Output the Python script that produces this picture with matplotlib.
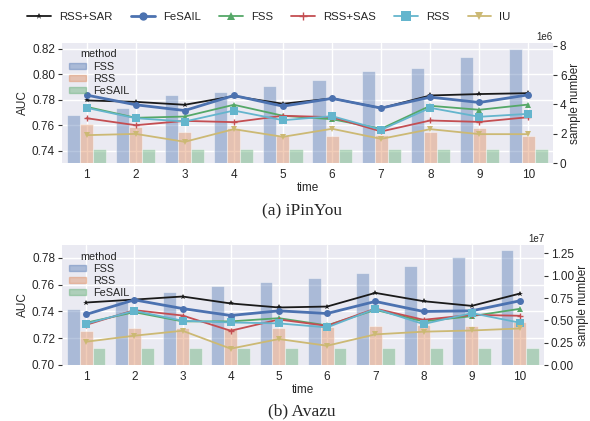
import matplotlib
matplotlib.use("Agg")
import matplotlib.pyplot as plt
import numpy as np
import seaborn as sns
from matplotlib.lines import Line2D

sns.set_theme(style="darkgrid")
plt.rcParams['font.family'] = ['Liberation Sans', 'DejaVu Sans']

time = [1, 2, 3, 4, 5, 6, 7, 8, 9, 10]
methods = ["RSS+SAR", "FeSAIL", "FSS", "RSS+SAS", "RSS", "IU"]
bar_methods = ["FSS", "RSS", "FeSAIL"]

# iPinYou AUC
ip_rss_sar = [0.7795, 0.7784, 0.7761, 0.7829, 0.7769, 0.7811, 0.7735, 0.7834, 0.7845, 0.7852]
ip_fesail = [0.7837, 0.7761, 0.7716, 0.7834, 0.7750, 0.7811, 0.7735, 0.7821, 0.7779, 0.7839]
ip_fss = [0.7745, 0.7659, 0.7669, 0.7761, 0.7675, 0.7648, 0.7573, 0.7753, 0.7722, 0.7763]
ip_rss_sas = [0.7656, 0.7601, 0.7635, 0.7625, 0.7675, 0.7664, 0.7552, 0.7638, 0.7627, 0.7664]
ip_rss = [0.7737, 0.7656, 0.7630, 0.7716, 0.7640, 0.7672, 0.7565, 0.7737, 0.7667, 0.7690]
ip_iu = [0.7523, 0.7533, 0.7471, 0.7570, 0.7510, 0.7573, 0.7494, 0.7570, 0.7531, 0.7531]
# iPinYou sample numbers (1e6)
ip_n_fss = [3.25, 3.73, 4.68, 4.86, 5.23, 5.68, 6.30, 6.48, 7.27, 7.80]
ip_n_rss = [2.64, 2.45, 2.14, 2.36, 1.82, 1.86, 1.90, 2.09, 2.36, 1.82]
ip_n_fesail = [0.95, 0.95, 0.95, 0.95, 0.95, 0.95, 0.95, 0.95, 0.95, 0.95]

# Avazu AUC
av_rss_sar = [0.7467, 0.7489, 0.7512, 0.7460, 0.7430, 0.7437, 0.7539, 0.7477, 0.7442, 0.7534]
av_fesail = [0.7378, 0.7487, 0.7422, 0.7370, 0.7405, 0.7385, 0.7475, 0.7400, 0.7405, 0.7480]
av_fss = [0.7316, 0.7395, 0.7326, 0.7326, 0.7350, 0.7296, 0.7412, 0.7326, 0.7365, 0.7420]
av_rss_sas = [0.7300, 0.7410, 0.7370, 0.7256, 0.7340, 0.7293, 0.7422, 0.7338, 0.7375, 0.7368]
av_rss = [0.7308, 0.7405, 0.7331, 0.7318, 0.7311, 0.7281, 0.7420, 0.7306, 0.7388, 0.7316]
av_iu = [0.7174, 0.7219, 0.7256, 0.7122, 0.7194, 0.7144, 0.7229, 0.7249, 0.7258, 0.7273]
# Avazu sample numbers (1e7)
av_n_fss = [0.629, 0.718, 0.818, 0.889, 0.926, 0.975, 1.030, 1.112, 1.209, 1.283]
av_n_rss = [0.383, 0.417, 0.417, 0.420, 0.420, 0.430, 0.439, 0.450, 0.439, 0.487]
av_n_fesail = [0.193, 0.193, 0.193, 0.193, 0.193, 0.193, 0.193, 0.193, 0.193, 0.193]

line_styles = {
    "RSS+SAR": dict(color="#1a1a1a", marker="*", ms=4, lw=1.3),
    "FeSAIL": dict(color="#4C72B0", marker="o", ms=5, lw=2.0),
    "FSS": dict(color="#55A868", marker="^", ms=4.5, lw=1.3),
    "RSS+SAS": dict(color="#C44E52", marker="+", ms=5, lw=1.3),
    "RSS": dict(color="#64B5CD", marker="s", ms=6, lw=1.3),
    "IU": dict(color="#CCB974", marker="v", ms=4.5, lw=1.3),
}
bar_colors = {"FSS": "#4C72B0", "RSS": "#DD8452", "FeSAIL": "#55A868"}

fig = plt.figure(figsize=(5.9, 4.21), dpi=100)


def panel(rect, aucs, counts, ylim, yticks, right_ylim, right_ticks, right_fmt, offset, caption, cap_y):
    ax = fig.add_axes(rect)
    ax2 = ax.twinx()
    x = np.array(time, dtype=float)
    w = 0.8 / 3
    ax2.patch.set_visible(True)
    ax2.set_facecolor("#EAEAF2")
    ax2.set_axisbelow(True)
    for i, m in enumerate(bar_methods):
        ax2.bar(x + (i - 1) * w, counts[i], width=w, color=bar_colors[m], alpha=0.4,
                edgecolor="white", linewidth=0.8, label=m)
    ax2.set_ylim(*right_ylim)
    ax2.set_yticks(right_ticks)
    ax2.set_yticklabels([right_fmt(v) for v in right_ticks])
    # grid lines follow the left (AUC) ticks, drawn beneath the bars
    r0, r1 = right_ylim
    grid_pos = [(v - ylim[0]) / (ylim[1] - ylim[0]) * (r1 - r0) + r0 for v in yticks]
    ax2.set_yticks(grid_pos, minor=True)
    ax2.xaxis.set_visible(True)
    ax2.grid(False)
    ax2.grid(True, axis="y", which="minor", color="white", lw=1.0)
    ax2.grid(True, axis="x", which="major", color="white", lw=1.0)
    ax2.tick_params(axis="y", which="minor", length=0)
    ax2.tick_params(axis="x", which="both", bottom=False, top=False, labelbottom=False, labeltop=False)
    ax2.set_ylabel("sample number", fontsize=8.5, labelpad=2)
    ax2.tick_params(axis="y", which="major", labelsize=8.5, length=3, width=0.8, color="#333333", pad=2)
    ax2.text(1.0, 1.01, offset, transform=ax2.transAxes, fontsize=7, ha="right", va="bottom")
    for s in ax2.spines.values():
        s.set_visible(False)

    for m, y in zip(methods, aucs):
        st = line_styles[m]
        ax.plot(x, y, color=st["color"], marker=st["marker"], ms=st["ms"], lw=st["lw"],
                markeredgewidth=1.0 if m == "RSS+SAS" else 0.0)
    ax.set_zorder(ax2.get_zorder() + 1)
    ax.patch.set_visible(False)
    ax.grid(False)
    ax.set_xlim(0.5, 10.5)
    ax.set_xticks(time)
    ax.set_xticklabels([str(t) for t in time])
    ax.set_ylim(*ylim)
    ax.set_yticks(yticks)
    ax.set_yticklabels(["%.2f" % v for v in yticks])
    ax.set_ylabel("AUC", fontsize=8.5, labelpad=2)
    ax.set_xlabel("time", fontsize=8.5, labelpad=1)
    ax.tick_params(axis="y", labelsize=8.5, length=3, width=0.8, color="#333333", pad=2)
    ax.tick_params(axis="x", labelsize=8.5, length=0, pad=4)
    for s in ax.spines.values():
        s.set_visible(False)
    handles = [plt.Rectangle((0, 0), 1, 1, color=bar_colors[m], alpha=0.4) for m in bar_methods]
    ax.legend(handles, bar_methods, title="method", loc="upper left", fontsize=7.8,
              title_fontsize=7.8, frameon=False, handlelength=1.6, handleheight=0.55,
              borderaxespad=0.25, labelspacing=0.2, handletextpad=0.7, borderpad=0.35)
    fig.text(0.512, cap_y, caption, ha="center", va="center", fontsize=12.5,
             family=["Liberation Serif", "DejaVu Serif"])
    return ax


panel([62 / 590, 1 - 163 / 421, (553 - 62) / 590, 120 / 421],
      [ip_rss_sar, ip_fesail, ip_fss, ip_rss_sas, ip_rss, ip_iu],
      [np.array(ip_n_fss), np.array(ip_n_rss), np.array(ip_n_fesail)],
      (0.7305, 0.8245), [0.74, 0.76, 0.78, 0.80, 0.82],
      (0, 8.2), [0, 2, 4, 6, 8], lambda v: "%d" % v, "1e6",
      "(a) iPinYou", 1 - 211 / 421)

panel([62 / 590, 1 - 365 / 421, (544 - 62) / 590, 120 / 421],
      [av_rss_sar, av_fesail, av_fss, av_rss_sas, av_rss, av_iu],
      [np.array(av_n_fss), np.array(av_n_rss), np.array(av_n_fesail)],
      (0.700, 0.7897), [0.70, 0.72, 0.74, 0.76, 0.78],
      (0, 1.344), [0, 0.25, 0.5, 0.75, 1.0, 1.25], lambda v: "%.2f" % v, "1e7",
      "(b) Avazu", 1 - 411 / 421)

handles = []
for m in methods:
    st = line_styles[m]
    handles.append(Line2D([0], [0], color=st["color"], marker=st["marker"], ms=st["ms"] + 1,
                          lw=st["lw"], markeredgewidth=1.0 if m == "RSS+SAS" else 0.0))
fig.legend(handles, methods, loc="center", bbox_to_anchor=(269 / 590, 1 - 17 / 421), ncol=6,
           frameon=False, fontsize=8.2, handlelength=2.1, columnspacing=1.6, handletextpad=0.7)

fig.savefig("out.png", dpi=100)
